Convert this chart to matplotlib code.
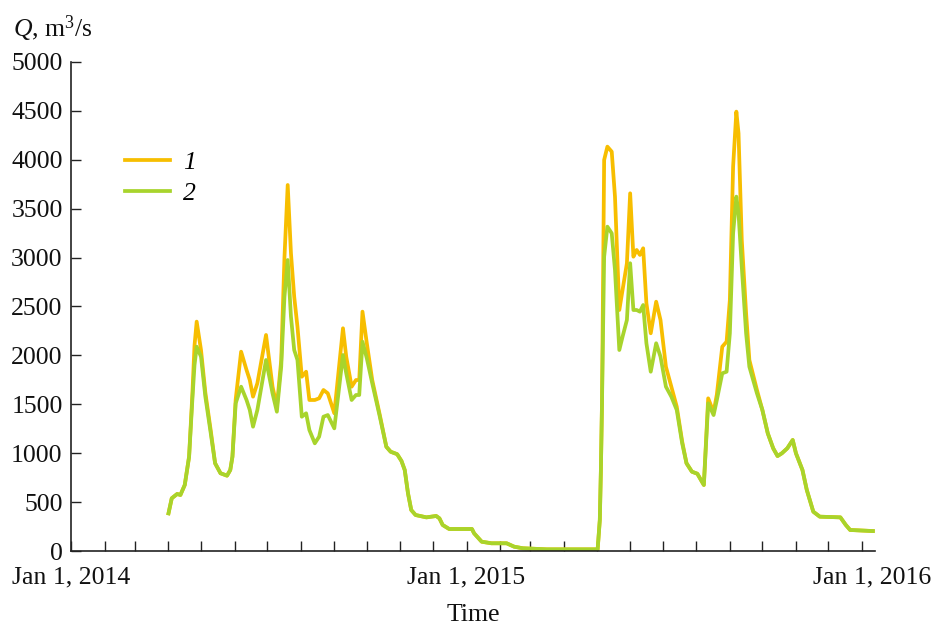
import matplotlib
matplotlib.use("Agg")
import matplotlib.pyplot as plt
import matplotlib.dates as mdates
import matplotlib.transforms as mtransforms
import numpy as np

dates = [
    "2014-04-01", "2014-04-04", "2014-04-09", "2014-04-12", "2014-04-16", "2014-04-20", "2014-04-23", "2014-04-25", "2014-04-27", "2014-05-01",
    "2014-05-05", "2014-05-10", "2014-05-14", "2014-05-19", "2014-05-25", "2014-05-28", "2014-05-30", "2014-06-02", "2014-06-07", "2014-06-12",
    "2014-06-15", "2014-06-18", "2014-06-22", "2014-06-30", "2014-07-06", "2014-07-10", "2014-07-14", "2014-07-17", "2014-07-20", "2014-07-23",
    "2014-07-26", "2014-07-29", "2014-08-02", "2014-08-06", "2014-08-09", "2014-08-14", "2014-08-18", "2014-08-22", "2014-08-26", "2014-09-01",
    "2014-09-09", "2014-09-12", "2014-09-17", "2014-09-21", "2014-09-24", "2014-09-27", "2014-10-01", "2014-10-06", "2014-10-13", "2014-10-19",
    "2014-10-23", "2014-10-29", "2014-11-02", "2014-11-05", "2014-11-08", "2014-11-11", "2014-11-15", "2014-11-25", "2014-12-04", "2014-12-07",
    "2014-12-10", "2014-12-16", "2015-01-06", "2015-01-08", "2015-01-15", "2015-01-24", "2015-02-07", "2015-02-14", "2015-02-22", "2015-03-16",
    "2015-05-02", "2015-05-04", "2015-05-05", "2015-05-06", "2015-05-08", "2015-05-11", "2015-05-15", "2015-05-18", "2015-05-22", "2015-05-25",
    "2015-05-29", "2015-06-01", "2015-06-04", "2015-06-07", "2015-06-10", "2015-06-13", "2015-06-16", "2015-06-20", "2015-06-25", "2015-06-29",
    "2015-07-04", "2015-07-09", "2015-07-14", "2015-07-19", "2015-07-23", "2015-07-28", "2015-08-02", "2015-08-08", "2015-08-12", "2015-08-17",
    "2015-08-20", "2015-08-25", "2015-08-29", "2015-09-01", "2015-09-04", "2015-09-07", "2015-09-09", "2015-09-12", "2015-09-16", "2015-09-19",
    "2015-09-26", "2015-10-01", "2015-10-06", "2015-10-11", "2015-10-15", "2015-10-19", "2015-10-24", "2015-10-29", "2015-11-01", "2015-11-07",
    "2015-11-11", "2015-11-17", "2015-11-23", "2015-12-12", "2015-12-17", "2015-12-21", "2016-01-11",
]

# series 1 (orange)
q1 = [
    385, 539, 583, 573, 675, 964, 1600, 2100, 2345, 2055,
    1620, 1230, 897, 795, 770, 828, 964, 1550, 2038, 1851,
    1748, 1578, 1715, 2209, 1680, 1476, 1950, 3000, 3742, 3044,
    2600, 2293, 1782, 1833, 1544, 1544, 1561, 1646, 1612, 1408,
    2277, 1987, 1680, 1748, 1748, 2447, 2124, 1748, 1390, 1066,
    1015, 990, 920, 828, 590, 419, 368, 344, 358, 334,
    266, 225, 225, 181, 95, 79, 79, 44, 28, 17,
    17, 317, 828, 1500, 3998, 4134, 4083, 3623, 2464, 2669,
    2942, 3657, 3009, 3078, 3027, 3095, 2533, 2226, 2549, 2362,
    1884, 1680, 1476, 1120, 897, 811, 790, 675, 1561, 1420,
    1600, 2089, 2140, 2566, 3929, 4492, 4271, 3180, 2430, 1953,
    1646, 1442, 1203, 1050, 971, 999, 1050, 1135, 999, 828,
    624, 402, 351, 344, 266, 215, 204,
]

# series 2 (green)
q2 = [
    385, 539, 583, 573, 675, 964, 1544, 1900, 2089, 1987,
    1578, 1203, 897, 795, 770, 828, 964, 1510, 1680, 1544,
    1442, 1271, 1442, 1953, 1612, 1424, 1884, 2600, 2975, 2396,
    2055, 1953, 1373, 1408, 1237, 1101, 1169, 1373, 1390, 1254,
    2004, 1817, 1544, 1595, 1595, 2140, 1970, 1715, 1373, 1066,
    1015, 990, 920, 828, 590, 419, 368, 344, 358, 334,
    266, 225, 225, 181, 95, 79, 79, 44, 28, 17,
    17, 317, 828, 1500, 3009, 3316, 3248, 2873, 2055, 2191,
    2362, 2942, 2464, 2464, 2447, 2515, 2124, 1833, 2124, 1987,
    1680, 1578, 1442, 1101, 897, 811, 790, 675, 1510, 1390,
    1544, 1817, 1833, 2226, 3248, 3623, 3453, 2907, 2226, 1884,
    1612, 1442, 1203, 1050, 971, 999, 1050, 1135, 999, 828,
    624, 402, 351, 344, 266, 215, 204,
]

labels = ["1", "2"]
colors = ["#F7BE00", "#A8D42C"]

plt.rcParams["font.family"] = ["Liberation Serif", "DejaVu Serif"]
plt.rcParams["mathtext.fontset"] = "custom"
plt.rcParams["mathtext.rm"] = "Liberation Serif"
plt.rcParams["mathtext.it"] = "Liberation Serif:italic"

fs = 18.5
t = np.array(dates, dtype="datetime64[D]")

fig = plt.figure(figsize=(9.35, 6.29), dpi=100)
ax = fig.add_axes([0.0759, 0.124, 0.860, 0.7775])

ax.plot(t, q1, color=colors[0], lw=2.7, label=labels[0], solid_joinstyle="round")
ax.plot(t, q2, color=colors[1], lw=2.7, label=labels[1], solid_joinstyle="round")

ax.set_xlim(np.datetime64("2014-01-01"), np.datetime64("2016-01-13"))
ax.set_ylim(0, 5000)
ax.set_yticks(np.arange(0, 5001, 500))

ax.xaxis.set_major_locator(mdates.MonthLocator())
ax.xaxis.set_major_formatter(plt.FuncFormatter(
    lambda v, p: mdates.num2date(v).strftime("Jan 1, %Y") if mdates.num2date(v).month == 1 else ""))

for s in ["top", "right"]:
    ax.spines[s].set_visible(False)
for s in ["left", "bottom"]:
    ax.spines[s].set_linewidth(1.2)
    ax.spines[s].set_color("#222222")

ax.tick_params(axis="both", direction="in", length=7, width=1.0, color="#222222",
               labelsize=fs, labelcolor="#111111")
ax.tick_params(axis="y", pad=6)
ax.tick_params(axis="x", pad=11)

# last date label sits a bit right of its tick in the original
fig.canvas.draw()
for lab in ax.get_xticklabels():
    if lab.get_text().endswith("2016"):
        lab.set_transform(lab.get_transform() + mtransforms.ScaledTranslation(10 / 100, 0, fig.dpi_scale_trans))

ax.set_xlabel("Time", fontsize=fs, labelpad=11, color="#111111")
fig.text(0.014, 0.942, r"$Q$, m$^3$/s", fontsize=fs, color="#111111", ha="left", va="baseline")

leg = ax.legend(loc="upper left", bbox_to_anchor=(0.067, 0.818), frameon=False,
                fontsize=fs, handlelength=1.75, handletextpad=0.5, labelspacing=0.3,
                borderpad=0, borderaxespad=0)
for txt in leg.get_texts():
    txt.set_fontstyle("italic")

fig.savefig("out.png", dpi=100)
